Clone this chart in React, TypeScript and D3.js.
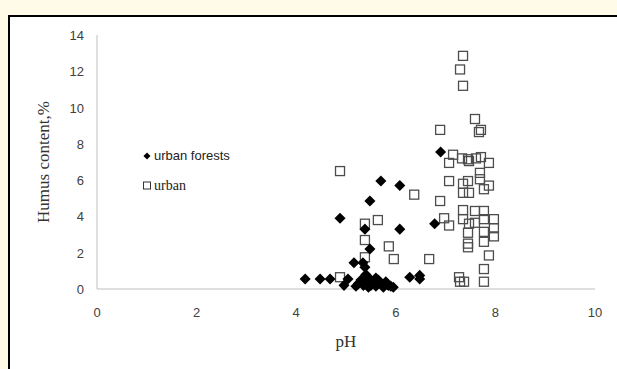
import React from 'react';
import * as d3 from 'd3';

const forestPH = [6.9, 5.7, 6.08, 5.48, 4.88, 5.38, 6.08, 6.78, 5.48, 5.16, 5.34, 5.38, 4.18, 4.48, 4.68, 4.96, 5.04,
  5.3, 5.35, 5.4, 5.4, 5.45, 5.5, 5.5, 5.55, 5.6, 5.65, 5.7, 5.75, 5.8, 5.85, 5.9, 5.95, 5.45, 5.6, 5.25, 5.2,
  6.28, 6.48, 6.48];
const forestHumus = [7.55, 5.95, 5.7, 4.85, 3.9, 3.3, 3.3, 3.6, 2.2, 1.45, 1.45, 1.2, 0.55, 0.55, 0.55, 0.2, 0.55,
  0.5, 0.2, 0.8, 0.3, 0.1, 0.5, 0.2, 0.4, 0.15, 0.5, 0.3, 0.1, 0.4, 0.2, 0.15, 0.1, 0.6, 0.6, 0.3, 0.15,
  0.65, 0.75, 0.55];

const urbanPH = [7.35, 7.29, 7.35, 7.59, 6.89, 7.67, 7.71, 7.15, 7.33, 7.45, 7.47, 7.61, 7.71, 7.87, 7.07,
  7.69, 7.69, 7.07, 7.35, 7.45, 7.35, 7.47, 7.87, 7.77, 6.37, 6.89, 7.35, 7.59, 7.77, 7.35, 7.47, 7.59, 7.77,
  7.97, 6.97, 7.07, 7.45, 7.77, 7.97, 7.97, 7.45, 7.45, 7.77, 7.87, 6.67, 7.77, 7.27, 7.29, 7.37, 7.77,
  5.86, 5.96, 4.88, 5.38, 5.38, 5.38, 4.88, 5.64];
const urbanHumus = [12.85, 12.1, 11.2, 9.37, 8.77, 8.65, 8.77, 7.4, 7.2, 7.15, 7.05, 7.2, 7.27, 6.95, 6.95,
  6.4, 6.05, 5.95, 5.8, 5.95, 5.3, 5.3, 5.7, 5.5, 5.2, 4.85, 4.35, 4.3, 4.3, 3.85, 3.6, 3.65, 3.85,
  3.85, 3.9, 3.5, 3.1, 3.15, 3.35, 2.9, 2.5, 2.3, 2.6, 1.85, 1.65, 1.1, 0.65, 0.4, 0.4, 0.4,
  2.35, 1.65, 6.5, 3.6, 2.7, 1.75, 0.65, 3.8];

const xTicks = [0, 2, 4, 6, 8, 10];
const yTicks = [0, 2, 4, 6, 8, 10, 12, 14];

const W = 617;
const H = 369;

export default function App() {
  const x = d3.scaleLinear().domain([0, 10]).range([97, 595]);
  const y = d3.scaleLinear().domain([0, 14]).range([289, 35]);
  const diamond = d3.symbol().type(d3.symbolDiamond2).size(78)();
  const sans = '"Liberation Sans", Arial, sans-serif';
  const serif = '"Liberation Serif", "Times New Roman", serif';

  return (
    <svg width={W} height={H} style={{ position: 'absolute', left: 0, top: 0 }}>
      <rect x={0} y={0} width={W} height={H} fill="#fffbe8" />
      <rect x={9} y={16} width={620} height={370} fill="#fff" stroke="#000" strokeWidth={2} />

      {/* axes */}
      <line x1={x(0)} x2={x(0)} y1={y(14)} y2={y(0)} stroke="#bfbfbf" />
      <line x1={x(0)} x2={x(10)} y1={y(0)} y2={y(0)} stroke="#bfbfbf" />

      {yTicks.map(t => (
        <text key={'y' + t} x={84} y={y(t) + 5} textAnchor="end" fontFamily={sans} fontSize={13} fill="#404040">{t}</text>
      ))}
      {xTicks.map(t => (
        <text key={'x' + t} x={x(t)} y={317} textAnchor="middle" fontFamily={sans} fontSize={13} fill="#404040">{t}</text>
      ))}

      <text x={346} y={347} textAnchor="middle" fontFamily={serif} fontSize={17} fill="#333">pH</text>
      <text transform={`translate(49,${y(7)}) rotate(-90)`} textAnchor="middle" fontFamily={serif} fontSize={17} fill="#333">Humus content,%</text>

      {/* urban */}
      {urbanPH.map((p, i) => (
        <rect key={'u' + i} x={x(p) - 4.5} y={y(urbanHumus[i]) - 4.5} width={9} height={9}
          fill="none" stroke="#4d4d4d" strokeWidth={1.3} />
      ))}
      {/* urban forests */}
      {forestPH.map((p, i) => (
        <path key={'f' + i} d={diamond ?? ''} transform={`translate(${x(p)},${y(forestHumus[i])})`} fill="#000" />
      ))}

      {/* legend */}
      <path d={d3.symbol().type(d3.symbolDiamond2).size(32)() ?? ''} transform="translate(147,156)" fill="#000" />
      <text x={154} y={160} fontFamily={sans} fontSize={13} fill="#222">urban forests</text>
      <rect x={143.5} y={182} width={7} height={7} fill="none" stroke="#333" strokeWidth={1} />
      <text x={154} y={190} fontFamily={serif} fontSize={14} fill="#222">urban</text>
    </svg>
  );
}
